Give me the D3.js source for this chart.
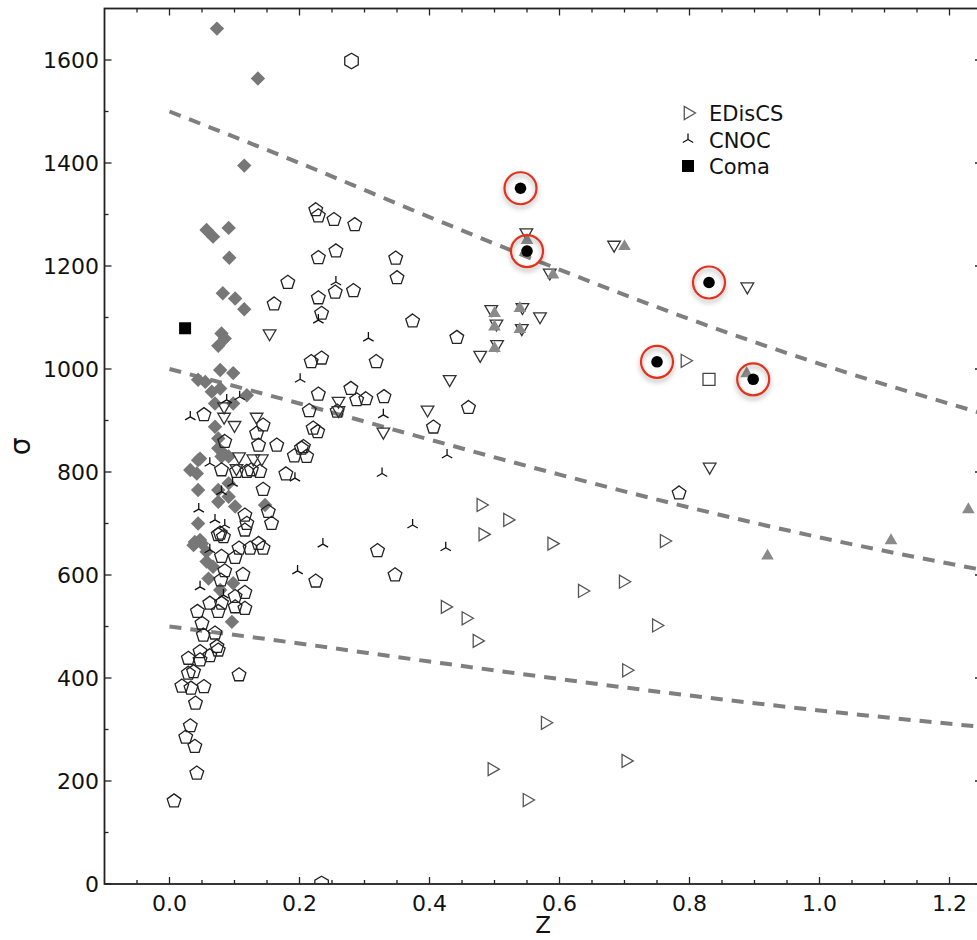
<!DOCTYPE html>
<html><head><meta charset="utf-8">
<script src="https://cdn.jsdelivr.net/npm/d3@7"></script>
<style>body{margin:0;background:#fff;} svg{display:block;}</style>
</head><body><svg id="c" width="977" height="940"></svg>
<script>
// ---- data (z, sigma) ----
const pentagons = [
 [0.225,1309],[0.229,1297],[0.253,1290],[0.285,1280],[0.229,1216],[0.256,1229],[0.348,1215],[0.350,1177],
 [0.182,1168],[0.161,1126],[0.229,1138],[0.255,1149],[0.283,1152],[0.234,1108],[0.218,1014],[0.234,1021],
 [0.318,1014],[0.374,1093],[0.442,1061],[0.279,962],[0.229,951],[0.288,940],[0.302,942],[0.330,946],
 [0.215,919],[0.258,918],[0.053,911],[0.221,885],[0.228,878],[0.144,891],[0.134,875],[0.460,925],
 [0.406,887],[0.085,859],[0.137,852],[0.165,852],[0.206,849],
 [0.116,716],[0.119,700],[0.078,681],[0.083,674],[0.152,723],[0.157,700],
 [0.144,766],[0.139,801],[0.080,804],[0.103,801],[0.119,801],[0.126,804],[0.179,796],[0.192,831],
 [0.211,830],[0.203,846],[0.075,678],[0.116,687],
 [0.080,636],[0.101,634],[0.107,652],[0.124,652],[0.137,661],[0.144,652],
 [0.079,590],[0.085,608],[0.113,601],
 [0.062,545],[0.080,545],[0.101,538],[0.101,558],[0.116,535],[0.116,566],[0.075,529],[0.043,529],
 [0.050,506],[0.052,483],[0.070,487],[0.073,461],[0.075,454],[0.062,443],[0.047,451],[0.029,438],
 [0.047,435],[0.029,409],[0.037,412],[0.019,384],[0.033,380],[0.053,383],[0.040,351],[0.032,307],
 [0.025,285],[0.039,267],[0.042,215],[0.007,161],[0.107,406],
 [0.320,647],[0.225,588],[0.347,600],[0.784,759]
];
const hexagons = [[0.280,1598],[0.234,0]];
const diamonds = [
 [0.073,1661],[0.136,1564],[0.115,1395],[0.057,1270],[0.067,1257],[0.091,1274],[0.092,1216],[0.082,1147],
 [0.101,1137],[0.115,1116],[0.080,1069],[0.085,1059],[0.075,1045],[0.078,998],[0.098,992],[0.044,979],
 [0.055,975],[0.065,956],[0.078,962],[0.119,949],[0.070,933],[0.098,933],[0.070,888],[0.075,865],
 [0.075,846],[0.080,830],[0.091,830],[0.047,826],[0.083,836],[0.032,804],[0.042,797],[0.044,823],
 [0.044,765],[0.075,765],[0.091,778],[0.075,742],[0.091,752],[0.101,733],[0.147,736],[0.044,700],
 [0.037,658],[0.047,668],[0.050,661],[0.057,645],[0.039,664],[0.057,626],[0.067,616],[0.060,593],
 [0.078,571],[0.096,509],[0.098,584]
];
const downTriangles = [
 [0.154,1069],[0.084,927],[0.084,907],[0.260,938],[0.260,920],[0.134,907],[0.100,891],[0.329,878],
 [0.397,921],[0.431,980],[0.478,1027],[0.495,1116],[0.503,1088],[0.504,1048],[0.549,1265],[0.585,1187],
 [0.684,1241],[0.889,1160],[0.543,1120],[0.570,1102],[0.542,1079],[0.831,810],[0.107,830],[0.129,826],
 [0.142,826],[0.103,807]
];
const grayTriangles = [
 [0.500,1108],[0.500,1082],[0.500,1040],[0.550,1250],[0.590,1183],[0.700,1238],[0.539,1118],[0.539,1077],
 [0.888,991],[0.920,637],[1.110,667],[1.229,727]
];
const cnoc = [
 [0.256,1169],[0.229,1095],[0.306,1060],[0.201,980],[0.329,911],[0.032,907],[0.108,946],[0.088,940],
 [0.374,697],[0.425,653],[0.327,797],[0.236,660],[0.197,608],[0.062,817],[0.045,728],[0.070,707],
 [0.085,697],[0.062,649],[0.047,577],[0.083,561],[0.080,762],[0.097,778],[0.193,788],[0.427,833]
];
const ediscs = [
 [0.793,1016],[0.761,666],[0.698,587],[0.749,502],[0.703,415],[0.479,736],[0.520,707],[0.482,679],
 [0.588,661],[0.635,569],[0.424,538],[0.456,516],[0.473,472],[0.578,313],[0.496,223],[0.702,239],[0.550,163]
];
const coma = [[0.024,1079]];
const openSquares = [[0.830,980]];
const highlighted = [[0.540,1351],[0.550,1229],[0.830,1168],[0.750,1014],[0.898,980]];
// dashed reference lines, read at z = 0,0.2,...,1.25
const lineZ = [0, 0.2, 0.4, 0.6, 0.8, 1.0, 1.25];
const lineHigh = [1500, 1400, 1295, 1193, 1097, 1010, 914];
const lineMid = [1000, 933, 863, 795, 731, 673, 610];
const lineLow = [500, 467, 432, 398, 366, 337, 305];
const xTicks = [0.0, 0.2, 0.4, 0.6, 0.8, 1.0, 1.2];
const yTicks = [0, 200, 400, 600, 800, 1000, 1200, 1400, 1600];
const legendItems = ["EDisCS", "CNOC", "Coma"];

// ---- layout ----
const M = {left:104.5, right:982, top:8.5, bottom:884};
const x = d3.scaleLinear().domain([-0.1, 1.25]).range([M.left, M.right]);
const y = d3.scaleLinear().domain([0, 1700]).range([M.bottom, M.top]);
const svg = d3.select('#c');
const FONT = "'DejaVu Sans', sans-serif";

const defs = svg.append('defs');
defs.append('clipPath').attr('id','plot').append('rect')
  .attr('x',M.left).attr('y',M.top).attr('width',M.right-M.left).attr('height',M.bottom-M.top);
const f = defs.append('filter').attr('id','shadow').attr('x','-50%').attr('y','-50%').attr('width','200%').attr('height','200%');
f.append('feDropShadow').attr('dx',0).attr('dy',3).attr('stdDeviation',2.5)
 .attr('flood-color','#000').attr('flood-opacity',0.35);

function poly(n, r, rotDeg) {
  const pts = d3.range(n).map(i => {
    const a = (rotDeg + i*360/n) * Math.PI/180;
    return [r*Math.cos(a), r*Math.sin(a)];
  });
  return 'M' + pts.map(p => p[0].toFixed(2)+','+p[1].toFixed(2)).join('L') + 'Z';
}
const SHAPE = {
  pentagon: poly(5, 7.2, -90),
  hexagon: poly(6, 7.8, -90),
  diamond: poly(4, 7.2, -90),
  triDown: poly(3, 7.3, 90),
  triUp: poly(3, 7.3, -90),
  triRight: poly(3, 7.5, 0),
  square: 'M-6,-6H6V6H-6Z',
  tri2: 'M0,0V-6M0,0L-5.2,3M0,0L5.2,3'
};

const plot = svg.append('g').attr('clip-path','url(#plot)');

// dashed lines
const line = d3.line().x(d=>x(d[0])).y(d=>y(d[1])).curve(d3.curveMonotoneX);
[lineHigh, lineMid, lineLow].forEach(arr => {
  plot.append('path').datum(lineZ.map((z,i)=>[z, arr[i]]))
    .attr('d', line).attr('fill','none').attr('stroke','#7f7f7f')
    .attr('stroke-width',4).attr('stroke-dasharray','12,9');
});

function markers(data, shape, fill, stroke, sw) {
  plot.append('g').selectAll('path').data(data).join('path')
    .attr('transform', d => `translate(${x(d[0])},${y(d[1])})`)
    .attr('d', SHAPE[shape]).attr('fill', fill).attr('stroke', stroke).attr('stroke-width', sw);
}
markers(diamonds, 'diamond', '#777', 'none', 0);
markers(pentagons, 'pentagon', 'none', '#222', 1.3);
markers(hexagons, 'hexagon', 'none', '#222', 1.3);
markers(downTriangles, 'triDown', 'none', '#333', 1.3);
markers(grayTriangles, 'triUp', '#8a8a8a', 'none', 0);
markers(cnoc, 'tri2', 'none', '#111', 1.3);
markers(ediscs, 'triRight', 'none', '#555', 1.3);
markers(openSquares, 'square', 'none', '#444', 1.3);
markers(coma, 'square', '#000', 'none', 0);

// highlighted clusters
const hg = plot.append('g');
hg.selectAll('circle.ring').data(highlighted).join('circle').attr('class','ring')
  .attr('cx', d=>x(d[0])).attr('cy', d=>y(d[1])).attr('r', 16)
  .attr('fill','none').attr('stroke','#e3321c').attr('stroke-width',2.2).attr('filter','url(#shadow)');
hg.selectAll('circle.dot').data(highlighted).join('circle').attr('class','dot')
  .attr('cx', d=>x(d[0])).attr('cy', d=>y(d[1])).attr('r', 5.8).attr('fill','#000');

// axes
const ax = svg.append('g');
const yMinor = d3.range(100, 1700, 200);
function ticksX(vals, len) {
  vals.forEach(v => {
    const px = x(v);
    if (px < M.left || px > 977) return;
    ax.append('line').attr('x1',px).attr('x2',px).attr('y1',M.bottom).attr('y2',M.bottom-len).attr('stroke','#222').attr('stroke-width',1.3);
    ax.append('line').attr('x1',px).attr('x2',px).attr('y1',M.top).attr('y2',M.top+len).attr('stroke','#222').attr('stroke-width',1.3);
  });
}
function ticksY(vals, len) {
  vals.forEach(v => {
    const py = y(v);
    ax.append('line').attr('x1',M.left).attr('x2',M.left+len).attr('y1',py).attr('y2',py).attr('stroke','#222').attr('stroke-width',1.3);
    ax.append('line').attr('x1',M.right).attr('x2',M.right-len).attr('y1',py).attr('y2',py).attr('stroke','#222').attr('stroke-width',1.3);
  });
}
const xMajorAll = [-0.2,0,0.2,0.4,0.6,0.8,1.0,1.2];
const xMinorVals = d3.range(-0.05, 1.26, 0.05).map(v=>+v.toFixed(2)).filter(v => !xMajorAll.some(m => Math.abs(m-v)<1e-6));
ticksX(xTicks, 7);
ticksX(xMinorVals, 4);
ticksY(yTicks, 7);
ticksY(yMinor, 4);

ax.append('rect').attr('x',M.left).attr('y',M.top).attr('width',M.right-M.left).attr('height',M.bottom-M.top)
  .attr('fill','none').attr('stroke','#222').attr('stroke-width',1.8);

ax.selectAll('text.xt').data(xTicks).join('text').attr('class','xt')
  .attr('x', d=>x(d)).attr('y', 911).attr('text-anchor','middle')
  .attr('font-family',FONT).attr('font-size',22).attr('fill','#111').text(d=>d.toFixed(1));
ax.selectAll('text.yt').data(yTicks).join('text').attr('class','yt')
  .attr('x', 99).attr('y', d=>y(d)+8).attr('text-anchor','end')
  .attr('font-family',FONT).attr('font-size',22).attr('fill','#111').text(d=>d);

svg.append('text').attr('x', (M.left+M.right)/2).attr('y', 933).attr('text-anchor','middle')
  .attr('font-family',FONT).attr('font-size',23).attr('fill','#111').text('Z');
svg.append('text').attr('transform', `translate(30,${(M.top+M.bottom)/2}) rotate(-90)`).attr('text-anchor','middle')
  .attr('font-family',FONT).attr('font-size',28).attr('fill','#111').text('σ');

// legend
const lg = svg.append('g');
const legShapes = [['triRight','none','#555',1.3],['tri2','none','#111',1.3],['square','#000','none',0]];
legendItems.forEach((t,i) => {
  const cy = 113 + i*26.5;
  const s = legShapes[i];
  lg.append('path').attr('transform',`translate(688,${cy})`).attr('d',SHAPE[s[0]])
    .attr('fill',s[1]).attr('stroke',s[2]).attr('stroke-width',s[3]);
  lg.append('text').attr('x',709).attr('y',cy+8).attr('font-family',FONT).attr('font-size',21)
    .attr('fill','#111').text(t);
});
</script></body></html>
